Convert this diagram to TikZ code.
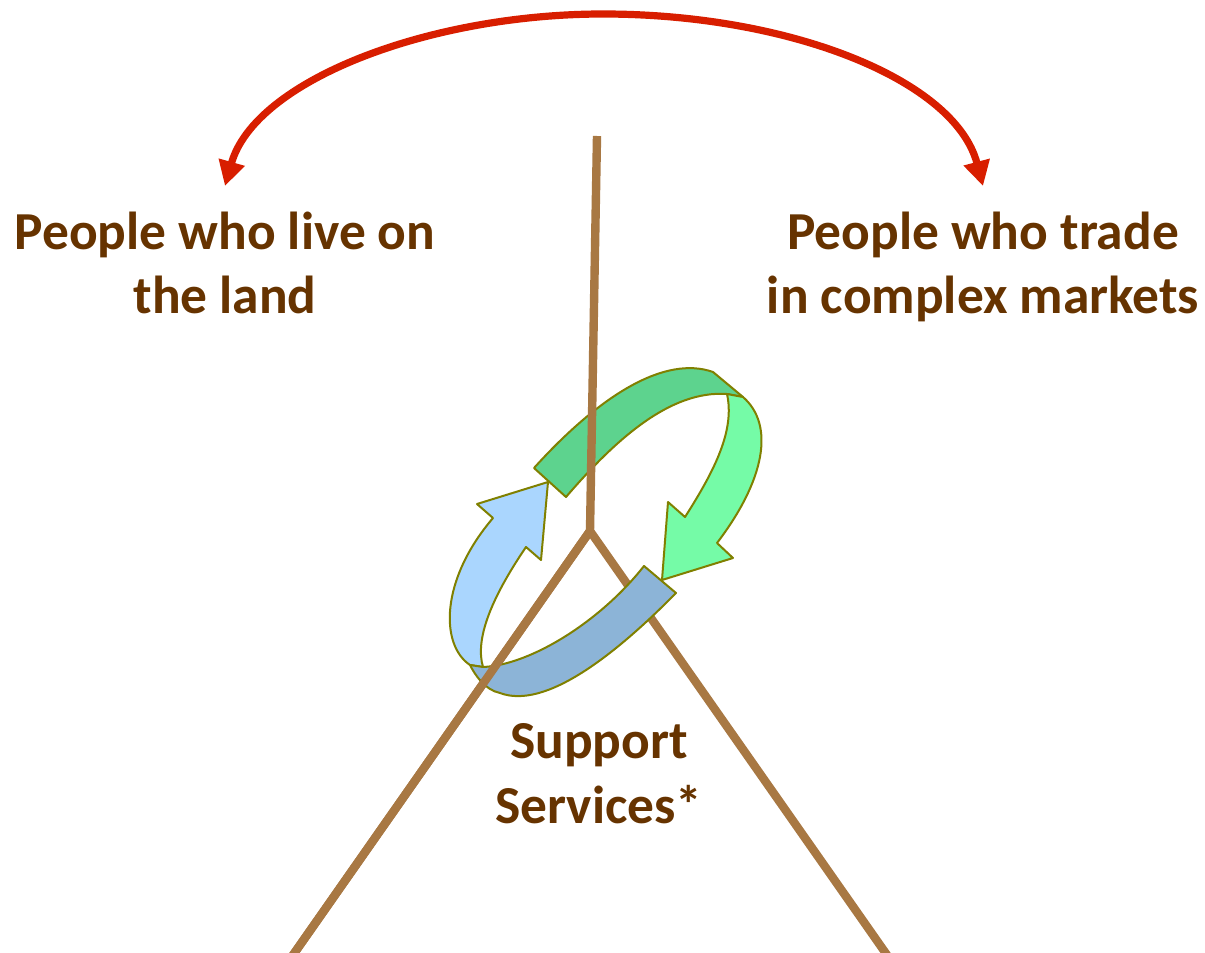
\documentclass[tikz,border=0pt]{standalone}
\usepackage{fontspec}
\setmainfont{Carlito}
\usepackage{tikz}
\usetikzlibrary{arrows.meta,calc}
\definecolor{TrunkBrown}{RGB}{168,120,67}
\definecolor{ArcRed}{RGB}{216,30,0}
\definecolor{TextBrown}{RGB}{102,51,0}
\definecolor{BackGreen}{RGB}{93,211,142}
\definecolor{SideGreen}{RGB}{117,251,167}
\definecolor{FrontBlue}{RGB}{140,180,215}
\definecolor{SideBlue}{RGB}{170,214,254}
\definecolor{RibbonEdge}{RGB}{128,128,0}
\tikzset{
	trunk/.style={draw=TrunkBrown, line width=0.21cm},
	ribbon/.style={draw=RibbonEdge, line width=0.05cm, line join=round},
	group label/.style={align=center, inner sep=0pt, text=TextBrown, font=\fontsize{38}{46}\selectfont\bfseries},
	home arc/.style={draw=ArcRed, line width=0.18cm, {Triangle[length=0.62cm,width=0.64cm]}-{Triangle[length=0.62cm,width=0.64cm]}}
}
\begin{document}
\begin{tikzpicture}[x=0.025cm, y=-0.025cm]
	\useasboundingbox (0,0) rectangle (1205,953);
%
	\coordinate (stemTop) at (597,136);
	\coordinate (fork) at (590,531);
	\coordinate (footL) at (286,965);
	\coordinate (footR) at (894,965);
	\coordinate (landTip) at (225,186);
	\coordinate (tradeTip) at (983,186);
	\coordinate (arcTop) at (603,14);
%
	%labels
	\node[group label] (land) at (225,263) {People who live on\\the land};
	\node[group label] (trade) at (983,267) {People who trade\\in complex markets};
	\node[group label] (support) at (599,774) {Support\\Services*};
%
	%the arc between the two groups
	\draw[home arc] (landTip) .. controls (255,80) and (430,14) .. (arcTop) .. controls (790,14) and (955,80) .. (tradeTip);
%
	%trunk, lower layer
	\draw[trunk] (footL) -- (fork) -- (footR);
%
	%ring of arrows
	\coordinate (gA) at (534,468);
	\coordinate (gB) at (713,372);
	\coordinate (gC) at (743,397);
	\coordinate (gD) at (727,394);
	\coordinate (gE) at (566,497);
	\coordinate (bF) at (644,566);
	\coordinate (bG) at (676,593);
	\coordinate (bH) at (470,665);
	\coordinate (bI) at (483,667);
	\filldraw[ribbon, fill=BackGreen] (gA) .. controls (600,395) and (665,355) .. (gB) -- (gC) -- (gD) .. controls (670,390) and (615,440) .. (gE) -- cycle;
	\filldraw[ribbon, fill=SideGreen] (gC) .. controls (775,425) and (765,480) .. (717,543) -- (733,558) -- (662,580) -- (668,502) -- (685,517) .. controls (715,470) and (735,430) .. (gD) -- cycle;
	\filldraw[ribbon, fill=SideBlue] (bH) .. controls (440,645) and (440,580) .. (493,518) -- (477,504) -- (548,482) -- (541,560) -- (526,547) .. controls (490,600) and (475,640) .. (bI) -- cycle;
	\filldraw[ribbon, fill=FrontBlue] (bF) -- (bG) .. controls (615,655) and (545,710) .. (500,693) .. controls (485,690) and (475,675) .. (bH) -- (bI) .. controls (530,665) and (600,622) .. (bF) -- cycle;
%
	%trunk, upper layer
	\draw[trunk] (footL) -- (fork);
	\draw[trunk] (stemTop) -- (fork);
\end{tikzpicture}
\end{document}
